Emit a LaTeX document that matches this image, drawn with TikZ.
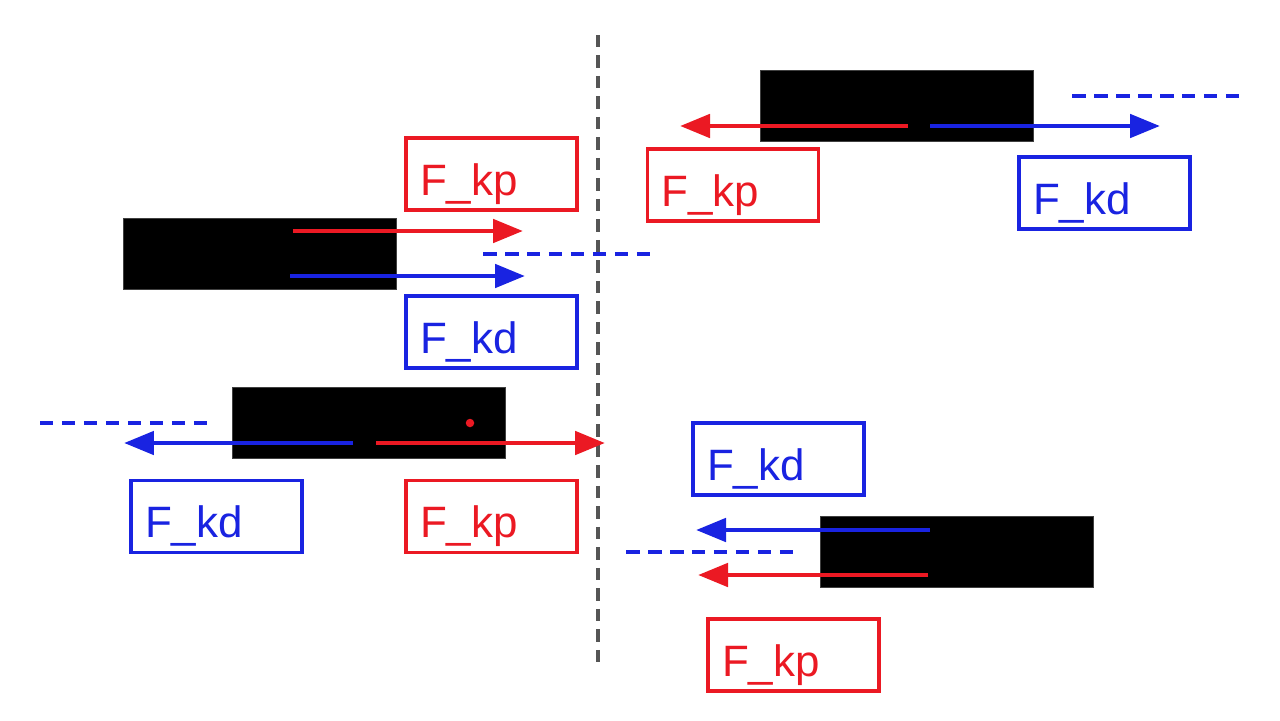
\documentclass[tikz,border=0pt]{standalone}
\usepackage{fontspec}
\setmainfont{Liberation Sans}
\usetikzlibrary{arrows.meta,positioning}
\definecolor{forcered}{RGB}{235,25,35}
\definecolor{forceblue}{RGB}{25,35,225}
\definecolor{walldash}{RGB}{85,85,85}

\begin{document}
\begin{tikzpicture}[x=0.02cm,y=-0.02cm]
            \tikzstyle{block}=[fill=black, draw=black!75, thin, minimum width=5.46cm, minimum height=1.42cm, inner sep=0pt]
            \tikzstyle{force}=[line width=2.8pt, -{Triangle[length=0.6cm,width=0.46cm]}]
            \tikzstyle{forcebox}=[draw, line width=2.1pt, minimum width=3.42cm, minimum height=1.44cm, inner xsep=0.28cm, text width=2.86cm, align=left, text height=24pt, text depth=0pt, font=\fontsize{25}{30}\selectfont]
            \tikzstyle{target}=[forceblue, line width=2.2pt, dash pattern=on 0.27cm off 0.17cm]
            \tikzstyle{wall}=[walldash, line width=2.2pt, dash pattern=on 0.25cm off 0.16cm]

            \useasboundingbox (0,0) rectangle (1280,720);

            % wall
            \coordinate (walltop) at (598,35);
            \coordinate (wallbot) at (598,662);
            \draw[wall] (walltop) -- (wallbot);

            % upper left
            \node[block] (blk1) at (260,254) {};
            \node[forcebox, forcered] (kp1) at (491.5,174) {F\_kp};
            \node[forcebox, forceblue] (kd1) at (491.5,332) {F\_kd};
            \coordinate (kp1s) at (293,231);
            \coordinate (kp1e) at (523,231);
            \coordinate (kd1s) at (290,276);
            \coordinate (kd1e) at (525,276);
            \coordinate (tg1s) at (483,254);
            \coordinate (tg1e) at (652,254);
            \draw[force, forcered] (kp1s) -- (kp1e);
            \draw[force, forceblue] (kd1s) -- (kd1e);
            \draw[target] (tg1s) -- (tg1e);

            % upper right
            \node[block] (blk2) at (896.5,105.5) {};
            \node[forcebox, forcered] (kp2) at (733,185) {F\_kp};
            \node[forcebox, forceblue] (kd2) at (1104.5,193) {F\_kd};
            \coordinate (kp2s) at (908,126);
            \coordinate (kp2e) at (680,126);
            \coordinate (kd2s) at (930,126);
            \coordinate (kd2e) at (1160,126);
            \coordinate (tg2s) at (1072,96);
            \coordinate (tg2e) at (1242,96);
            \draw[force, forcered] (kp2s) -- (kp2e);
            \draw[force, forceblue] (kd2s) -- (kd2e);
            \draw[target] (tg2s) -- (tg2e);

            % lower left
            \node[block] (blk3) at (368.5,422.5) {};
            \node[circle, fill=forcered, inner sep=0pt, minimum size=0.17cm] (dot3) at (470,423) {};
            \node[forcebox, forceblue] (kd3) at (216.5,516.5) {F\_kd};
            \node[forcebox, forcered] (kp3) at (491.5,516.5) {F\_kp};
            \coordinate (kd3s) at (353,443);
            \coordinate (kd3e) at (124,443);
            \coordinate (kp3s) at (376,443);
            \coordinate (kp3e) at (605,443);
            \coordinate (tg3s) at (40,423);
            \coordinate (tg3e) at (210,423);
            \draw[force, forceblue] (kd3s) -- (kd3e);
            \draw[force, forcered] (kp3s) -- (kp3e);
            \draw[target] (tg3s) -- (tg3e);

            % lower right
            \node[block] (blk4) at (956.5,552) {};
            \node[forcebox, forceblue] (kd4) at (778.5,459) {F\_kd};
            \node[forcebox, forcered] (kp4) at (793.5,655) {F\_kp};
            \coordinate (kd4s) at (930,530);
            \coordinate (kd4e) at (696,530);
            \coordinate (kp4s) at (928,575);
            \coordinate (kp4e) at (698,575);
            \coordinate (tg4s) at (626,552);
            \coordinate (tg4e) at (796,552);
            \draw[force, forceblue] (kd4s) -- (kd4e);
            \draw[force, forcered] (kp4s) -- (kp4e);
            \draw[target] (tg4s) -- (tg4e);

\end{tikzpicture}
\end{document}
